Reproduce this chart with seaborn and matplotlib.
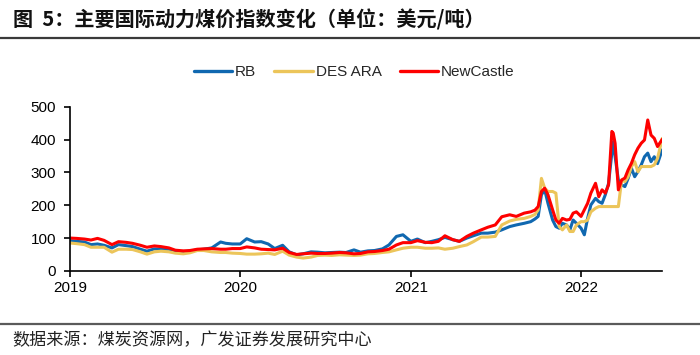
import matplotlib
matplotlib.use("Agg")
import matplotlib.pyplot as plt
import matplotlib.dates as mdates
from matplotlib.lines import Line2D
import numpy as np
import pandas as pd
import seaborn as sns

# ---------------- data ----------------
dates = [
    "2019-01-01", "2019-01-15", "2019-02-01", "2019-02-15", "2019-03-01", "2019-03-15",
    "2019-04-01", "2019-04-15", "2019-05-01", "2019-05-15", "2019-06-01", "2019-06-15",
    "2019-07-01", "2019-07-15", "2019-08-01", "2019-08-15", "2019-09-01", "2019-09-15",
    "2019-10-01", "2019-10-15", "2019-11-01", "2019-11-20", "2019-12-01", "2019-12-15",
    "2020-01-01", "2020-01-15", "2020-02-01", "2020-02-15", "2020-03-01", "2020-03-15",
    "2020-04-01", "2020-04-15", "2020-05-01", "2020-05-15", "2020-06-01", "2020-06-15",
    "2020-07-01", "2020-07-15", "2020-08-01", "2020-08-15", "2020-09-01", "2020-09-15",
    "2020-10-01", "2020-10-15", "2020-11-01", "2020-11-15", "2020-12-01", "2020-12-15",
    "2021-01-01", "2021-01-15", "2021-02-01", "2021-02-15", "2021-03-01", "2021-03-15",
    "2021-04-01", "2021-04-15", "2021-05-01", "2021-05-15", "2021-06-01", "2021-06-15",
    "2021-07-01", "2021-07-15", "2021-08-01", "2021-08-15", "2021-09-01", "2021-09-15",
    "2021-09-24", "2021-10-01", "2021-10-08", "2021-10-15", "2021-10-22", "2021-11-01",
    "2021-11-08", "2021-11-15", "2021-11-22", "2021-12-01", "2021-12-08", "2021-12-15",
    "2021-12-22", "2022-01-01", "2022-01-08", "2022-01-15", "2022-01-22", "2022-02-01",
    "2022-02-08", "2022-02-15", "2022-02-22", "2022-03-01", "2022-03-08", "2022-03-11",
    "2022-03-15", "2022-03-22", "2022-03-29", "2022-04-05", "2022-04-12", "2022-04-19",
    "2022-04-26", "2022-05-03", "2022-05-10", "2022-05-17", "2022-05-24", "2022-05-31",
    "2022-06-07", "2022-06-14", "2022-06-24",
]

rb = [
    92, 90, 88, 80, 82, 78,
    70, 80, 77, 74, 66, 60,
    67, 66, 66, 60, 58, 60,
    64, 66, 70, 88, 84, 82,
    82, 98, 88, 89, 82, 68,
    78, 58, 49, 52, 58, 57,
    55, 56, 57, 56, 64, 57,
    61, 62, 67, 79, 105, 110,
    90, 97, 86, 90, 95, 102,
    95, 90, 100, 107, 115, 115,
    118, 125, 135, 140, 145, 150,
    158, 166, 232, 247, 206, 155,
    135, 130, 145, 140, 125, 155,
    145, 130, 110, 160, 201, 221,
    211, 206, 232, 267, 359, 394,
    348, 277, 262, 257, 282, 313,
    287, 303, 323, 348, 359, 333,
    348, 327, 369,
]

des_ara = [
    85, 83, 80, 72, 72, 72,
    57, 66, 66, 65, 58, 51,
    58, 60, 58, 54, 52, 55,
    62, 62, 58, 56, 56, 54,
    53, 51, 51, 52, 54, 50,
    60, 48, 42, 39, 42, 47,
    48, 47, 49, 48, 47, 48,
    52, 53, 56, 58, 64, 69,
    72, 72, 69, 69, 70, 66,
    69, 74, 79, 89, 103, 103,
    105, 140, 152, 157, 160, 166,
    172, 186, 282, 252, 242, 242,
    237, 135, 125, 140, 120, 120,
    140, 150, 150, 155, 180, 191,
    196, 196, 196, 196, 196, 196,
    196, 196, 277, 272, 287, 318,
    333, 302, 318, 318, 318, 318,
    323, 343, 404,
]

newcastle = [
    100, 99, 97, 94, 99, 93,
    80, 89, 87, 84, 78, 72,
    76, 74, 70, 63, 61, 62,
    66, 67, 68, 66, 66, 68,
    68, 73, 70, 66, 65, 64,
    69, 56, 50, 52, 54, 53,
    53, 54, 56, 55, 52, 53,
    58, 59, 62, 66, 79, 86,
    86, 92, 87, 86, 90, 107,
    95, 90, 105, 115, 125, 133,
    140, 165, 171, 166, 176, 180,
    185, 196, 242, 252, 232, 186,
    155, 145, 160, 155, 157, 176,
    180, 166, 186, 206, 237, 267,
    226, 247, 237, 262, 425, 420,
    389, 247, 277, 283, 308, 328,
    354, 374, 389, 399, 460, 414,
    404, 379, 401,
]

series_names = ["RB", "DES ARA", "NewCastle"]
colors = ["#1068b0", "#ecc55a", "#fe0000"]
y_ticks = [0, 100, 200, 300, 400, 500]
x_tick_years = ["2019-01-01", "2020-01-01", "2021-01-01", "2022-01-01"]

# ---------------- build frame ----------------
wide = pd.DataFrame({
    "date": pd.to_datetime(dates),
    "RB": rb,
    "DES ARA": des_ara,
    "NewCastle": newcastle,
})
long = wide.melt(id_vars="date", var_name="series", value_name="value")

# ---------------- style ----------------
sns.set_style("ticks")
plt.rcParams["font.family"] = ["Liberation Sans", "Noto Sans CJK SC", "DejaVu Sans"]
plt.rcParams["axes.edgecolor"] = "black"
plt.rcParams["axes.linewidth"] = 1.2

fig = plt.figure(figsize=(7.0, 3.55), dpi=100)
ax = fig.add_axes([0.1, 0.237, 0.846, 0.462])

sns.lineplot(
    data=long, x="date", y="value", hue="series",
    hue_order=series_names, palette=colors,
    linewidth=2.2, ax=ax, legend=True,
)

ax.set_ylim(0, 500)
ax.set_yticks(y_ticks)
ax.set_xlim(wide["date"].min(), wide["date"].max())
ax.set_xticks(pd.to_datetime(x_tick_years))
ax.xaxis.set_major_formatter(mdates.DateFormatter("%Y"))
ax.set_xlabel("")
ax.set_ylabel("")
sns.despine(ax=ax)
ax.tick_params(axis="both", direction="out", length=4, width=1.2,
               colors="black", labelsize=11)
ax.tick_params(axis="y", pad=6)
ax.tick_params(axis="x", pad=3)
ax.grid(False)

sns.move_legend(
    ax, "center", bbox_to_anchor=(0.480, 1.212), ncol=3, frameon=False,
    title=None, fontsize=11, handlelength=2.5, handletextpad=0.2,
    columnspacing=1.2,
)
for line in ax.get_legend().get_lines():
    line.set_linewidth(2.4)

# ---------------- title, rules, source ----------------
cjk = ["Noto Sans CJK SC", "DejaVu Sans"]
fig.text(0.018, 1 - 20 / 355, "图  5：主要国际动力煤价指数变化（单位：美元/吨）",
         fontsize=14.5, fontweight="bold", va="center", ha="left",
         family=cjk, color="#111111")
fig.add_artist(Line2D([0, 1], [1 - 38 / 355] * 2, color="#3a3a3a", lw=1.6,
                      transform=fig.transFigure))
fig.add_artist(Line2D([0, 1], [1 - 324 / 355] * 2, color="#5a5a5a", lw=1.6,
                      transform=fig.transFigure))
fig.text(0.018, 1 - 340 / 355, "数据来源：煤炭资源网，广发证券发展研究中心",
         fontsize=12.3, va="center", ha="left", family=cjk, color="#222222")

fig.savefig("out.png", dpi=100)
